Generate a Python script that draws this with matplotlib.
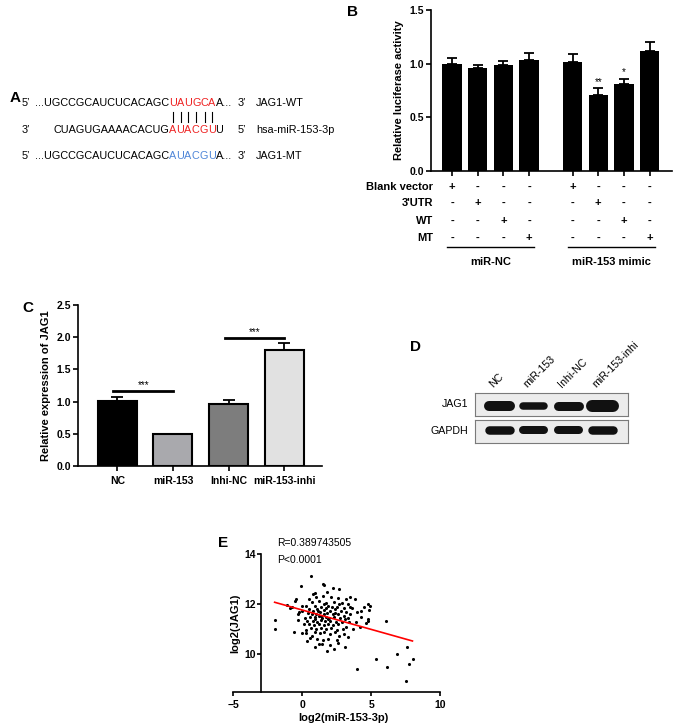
import matplotlib
matplotlib.use('Agg')
import matplotlib.pyplot as plt
import numpy as np

plt.rcParams['font.family'] = ['Liberation Sans', 'DejaVu Sans']
plt.rcParams['axes.linewidth'] = 1.2

W, H = 677, 728

# ---- A: sequences ----
wt_seq = ['...UGCCGCAUCUCACAGC', 'UAUGCA', 'A...']
mir_seq = ['CUAGUGAAAACACUG', 'AUACGU', 'U']
mt_seq = ['...UGCCGCAUCUCACAGC', 'AUACGU', 'A...']
seq_names = ['JAG1-WT', 'hsa-miR-153-3p', 'JAG1-MT']

# ---- B: luciferase ----
lucif_vals = [1.00, 0.96, 0.99, 1.03, 1.01, 0.71, 0.81, 1.12]
lucif_err = [0.05, 0.025, 0.03, 0.065, 0.08, 0.06, 0.045, 0.085]
lucif_stars = ['', '', '', '', '', '**', '*', '']
table_rows = ['Blank vector', "3'UTR", 'WT', 'MT']
table_signs = ['+---+---', '-+---+--', '--+---+-', '---+---+']
group_names = ['miR-NC', 'miR-153 mimic']

# ---- C: qPCR ----
expr_labels = ['NC', 'miR-153', 'Inhi-NC', 'miR-153-inhi']
expr_vals = [1.01, 0.50, 0.96, 1.80]
expr_err = [0.055, 0.0, 0.07, 0.11]
expr_colors = ['#000000', '#a9a9ad', '#7d7d7d', '#e1e1e1']
sig_pairs = [(0, 1, 1.16), (2, 3, 1.98)]

# ---- D: western blot ----
lanes = ['NC', 'miR-153', 'Inhi-NC', 'miR-153-inhi']
jag1_band = [10, 7.5, 9, 12]
gapdh_band = [8.5, 8, 8, 8.5]

# ---- E: correlation ----
e_pairs = [
    (-1.95, 11.37), (-1.97, 11.0), (-1.1, 11.97), (-0.76, 11.9), (-0.45, 12.2),
    (-0.55, 12.15), (-0.1, 12.74), (-0.28, 11.37), (-0.04, 10.86), (-0.6, 10.9),
    (0.61, 13.15), (0.33, 10.54), (0.73, 10.73), (0.93, 10.27), (1.46, 10.39),
    (1.83, 10.13), (2.33, 10.2), (3.1, 10.27), (3.35, 10.7), (2.7, 10.73),
    (3.7, 11.0), (4.2, 11.1), (4.8, 11.33), (6.05, 11.33), (3.95, 9.39),
    (5.35, 9.79), (6.13, 9.5), (6.85, 9.99), (7.58, 10.27), (7.77, 9.6),
    (8.07, 9.79), (7.53, 8.93), (4.87, 11.77), (4.24, 11.74), (3.47, 11.9),
    (4.8, 12.0), (4.95, 11.92), (3.8, 12.2), (3.2, 12.2), (2.7, 12.6),
    (2.2, 12.67), (1.53, 12.82), (1.6, 12.76), (0.93, 12.44), (0.78, 12.41),
    (1.8, 12.5), (-0.9, 11.85), (-0.3, 11.6), (0.0, 11.75), (0.2, 11.45),
    (0.1, 11.2), (0.25, 10.95), (-0.2, 11.7), (0.0, 11.95),
    (1.0, 12.3), (1.5, 12.35), (2.1, 12.3), (2.6, 12.25), (0.5, 12.2),
    (0.7, 12.1), (1.2, 12.15), (1.7, 12.05), (2.3, 12.1), (2.9, 12.05), (3.3, 12.0),
    (0.3, 11.95), (0.9, 11.95), (1.4, 11.9), (1.9, 11.95), (2.5, 11.9), (3.0, 11.85),
    (3.6, 11.85), (0.5, 11.8), (0.8, 11.75), (1.1, 11.8), (1.6, 11.78), (2.0, 11.75),
    (2.4, 11.8), (2.8, 11.72), (3.2, 11.7), (4.0, 11.7), (0.4, 11.65), (0.7, 11.62),
    (1.0, 11.6), (1.3, 11.68), (1.55, 11.6), (1.8, 11.65), (2.2, 11.62), (2.6, 11.6),
    (3.0, 11.55), (3.5, 11.6), (0.6, 11.5), (0.9, 11.48), (1.2, 11.52), (1.45, 11.45),
    (1.7, 11.5), (1.95, 11.45), (2.3, 11.5), (2.75, 11.45), (3.1, 11.4), (4.3, 11.5),
    (0.35, 11.35), (0.75, 11.35), (1.05, 11.3), (1.35, 11.38), (1.65, 11.32),
    (2.05, 11.35), (2.45, 11.3), (2.9, 11.28), (3.4, 11.3), (4.8, 11.4),
    (0.5, 11.2), (0.85, 11.18), (1.25, 11.2), (1.55, 11.15), (1.9, 11.22),
    (2.2, 11.15), (2.6, 11.2), (3.2, 11.1), (0.65, 11.05), (1.0, 11.0), (1.4, 11.05),
    (1.75, 11.0), (2.1, 11.05), (2.5, 10.98), (2.95, 11.0), (0.3, 10.85), (0.9, 10.88),
    (1.3, 10.85), (1.6, 10.9), (2.0, 10.8), (2.35, 10.88), (3.0, 10.8), (0.55, 10.65),
    (1.1, 10.6), (1.5, 10.55), (1.9, 10.62), (2.5, 10.55), (1.2, 10.4), (2.05, 10.35),
    (2.6, 10.45), (1.15, 11.72), (1.75, 11.85), (2.15, 11.88), (1.35, 11.55),
    (1.85, 11.4), (2.4, 11.65), (0.95, 11.4), (1.6, 12.0), (2.7, 12.0), (3.5, 12.3),
    (3.9, 11.3), (4.5, 11.9), (4.6, 11.25), (3.3, 11.45),
]
mir153_log2, jag1_log2 = zip(*e_pairs)
fit_x = [-2, 8]
fit_y = [12.08, 10.53]
r_text = 'R=0.389743505'
p_text = 'P<0.0001'

fig = plt.figure(figsize=(W / 100, H / 100), dpi=100)


def px_axes(x0, y0, x1, y1):
    return fig.add_axes([x0 / W, 1 - y1 / H, (x1 - x0) / W, (y1 - y0) / H])


# overlay in pixel coords for free text, drawn on top
ov = px_axes(0, 0, W, H)
ov.set_xlim(0, W)
ov.set_ylim(H, 0)
ov.axis('off')
ov.set_zorder(10)
renderer = fig.canvas.get_renderer()

bold = dict(fontweight='bold')
lab_kw = dict(fontsize=11, fontweight='bold', va='center', ha='left')

# ---------- A ----------
fs_seq = 7.8
red = '#ee2222'
blue = '#4f86d8'


def run_text(x, y, s, color, split=False):
    centers = []
    for p in (list(s) if split else [s]):
        t = ov.text(x, y, p, color=color, fontsize=fs_seq, ha='left', va='center')
        bb = t.get_window_extent(renderer=renderer)
        inv = ov.transData.inverted()
        xa = inv.transform((bb.x0, 0))[0]
        xb = inv.transform((bb.x1, 0))[0]
        centers.append((xa + xb) / 2)
        x = xb
    return x, centers


ov.text(10, 98, 'A', **lab_kw)
rows_y = [103.3, 130, 156]
seq_kw = dict(fontsize=fs_seq, va='center')
# line 1
ov.text(21.7, rows_y[0], '5\u2019', **seq_kw)
x, _ = run_text(35, rows_y[0], wt_seq[0], 'black')
red_x0 = x
x, centers = run_text(x, rows_y[0], wt_seq[1], red, split=True)
run_text(x, rows_y[0], wt_seq[2], 'black')
ov.text(237.7, rows_y[0], '3\u2019', **seq_kw)
# line 2
ov.text(21.7, rows_y[1], '3\u2019', **seq_kw)
ov.text(red_x0, rows_y[1], mir_seq[0], ha='right', **seq_kw)
x, _ = run_text(red_x0, rows_y[1], mir_seq[1], red, split=True)
run_text(x, rows_y[1], mir_seq[2], 'black')
ov.text(237.7, rows_y[1], '5\u2019', **seq_kw)
# line 3
ov.text(21.7, rows_y[2], '5\u2019', **seq_kw)
x, _ = run_text(35, rows_y[2], mt_seq[0], 'black')
x, _ = run_text(x, rows_y[2], mt_seq[1], blue, split=True)
run_text(x, rows_y[2], mt_seq[2], 'black')
ov.text(237.7, rows_y[2], '3\u2019', **seq_kw)
for yy, nm in zip(rows_y, seq_names):
    ov.text(256, yy, nm, **seq_kw)
for c in centers:
    ov.plot([c, c], [111.7, 121.7], color='black', lw=0.8)


def style_axes(ax):
    for s in ['top', 'right']:
        ax.spines[s].set_visible(False)
    ax.tick_params(length=3.5, width=1.2, labelsize=7.5, pad=1.5)
    for lb in ax.get_xticklabels() + ax.get_yticklabels():
        lb.set_fontweight('bold')


# ---------- B ----------
axB = px_axes(430.7, 10, 671.7, 170.7)
posB = [0, 1, 2, 3, 4.69, 5.69, 6.69, 7.69]
axB.bar(posB, lucif_vals, width=0.75, color='black', zorder=2)
axB.errorbar(posB, lucif_vals, yerr=[np.zeros(len(posB)), lucif_err], fmt='none',
             ecolor='black', elinewidth=1.3, capsize=3.5, capthick=1.3, zorder=3)
for p, v, e, s in zip(posB, lucif_vals, lucif_err, lucif_stars):
    if s:
        axB.text(p, v + e + 0.015, s, ha='center', va='bottom', fontsize=7)
axB.set_xlim(-0.83, 8.55)
axB.set_ylim(0, 1.5)
axB.set_yticks([0, 0.5, 1.0, 1.5])
axB.set_yticklabels(['0.0', '0.5', '1.0', '1.5'])
axB.set_xticks(posB)
axB.set_xticklabels([])
style_axes(axB)
axB.set_ylabel('Relative luciferase activity', fontsize=8, **bold)
axB.yaxis.set_label_coords(-0.11, 0.5)
tr = axB.get_xaxis_transform()
row_px = [186.7, 203.3, 221, 238.3]
for lbl, signs, ypx in zip(table_rows, table_signs, row_px):
    yf = (170.7 - ypx) / 160.7
    axB.text(-0.73, yf, lbl, transform=tr, ha='right', va='center', fontsize=8, **bold)
    for p, s in zip(posB, signs):
        axB.text(p, yf, s, transform=tr, ha='center', va='center', fontsize=8, **bold)
yl = (170.7 - 247.3) / 160.7
yg = (170.7 - 256.7) / 160.7
for (a, b), g in zip([(posB[0], posB[3]), (posB[4], posB[7])], group_names):
    axB.plot([a - 0.18, b + 0.21], [yl, yl], transform=tr, clip_on=False, color='black', lw=1)
    axB.text((a + b) / 2, yg, g, transform=tr, ha='center', va='top', fontsize=8, **bold)
ov.text(347, 12, 'B', **lab_kw)

# ---------- C ----------
axC = px_axes(77.7, 305, 321.7, 466)
posC = np.arange(len(expr_vals))
axC.bar(posC, expr_vals, width=0.7, color=expr_colors, edgecolor='black', linewidth=1.5, zorder=2)
axC.errorbar(posC, expr_vals, yerr=[np.zeros(len(posC)), expr_err], fmt='none',
             ecolor='black', elinewidth=1.3, capsize=4, capthick=1.3, zorder=1)
for i, j, yv in sig_pairs:
    axC.plot([i - 0.07, j], [yv, yv], color='black', lw=2)
    axC.text((i - 0.07 + j) / 2, yv + 0.02, '***', ha='center', va='bottom', fontsize=7)
axC.set_xlim(-0.71, 3.67)
axC.set_ylim(0, 2.5)
axC.set_yticks([0, 0.5, 1.0, 1.5, 2.0, 2.5])
axC.set_yticklabels(['0.0', '0.5', '1.0', '1.5', '2.0', '2.5'])
axC.set_xticks(posC)
axC.set_xticklabels(expr_labels)
style_axes(axC)
axC.tick_params(axis='x', pad=4)
axC.set_ylabel('Relative expression of JAG1', fontsize=8, **bold)
axC.yaxis.set_label_coords(-0.109, 0.5)
ov.text(22, 308, 'C', **lab_kw)

# ---------- D ----------
axJ = px_axes(475, 392.7, 628.3, 416)
axG = px_axes(475, 420, 628.3, 442.7)
for ax, bands, yb, name in [(axJ, jag1_band, 0.45, 'JAG1'), (axG, gapdh_band, 0.55, 'GAPDH')]:
    ax.set_facecolor('#ececec')
    ax.set_xlim(0.296, 4.74)
    ax.set_ylim(0, 1)
    ax.set_xticks([])
    ax.set_yticks([])
    for s in ax.spines.values():
        s.set_color('#7a7a7a')
        s.set_linewidth(0.8)
    for k, t in enumerate(bands):
        ax.plot([k + 1 - 0.31, k + 1 + 0.31], [yb, yb], color='#111111',
                lw=t * 0.72, solid_capstyle='round')
    ax.text(-0.046, 0.5, name, transform=ax.transAxes, ha='right', va='center', fontsize=7.7)
trJ = axJ.get_xaxis_transform()
for k, nm in enumerate(lanes):
    axJ.text(k + 1 - 0.15, 1.16, nm, transform=trJ, rotation=45, rotation_mode='anchor',
             ha='left', va='bottom', fontsize=7.7)
ov.text(410, 347, 'D', **lab_kw)

# ---------- E ----------
axE = px_axes(233.3, 554.3, 440, 691.7)
axE.patch.set_visible(False)
axE.scatter(mir153_log2, jag1_log2, s=5, color='black', zorder=3, linewidths=0)
axE.plot(fit_x, fit_y, color='red', lw=1.2, zorder=4)
axE.set_xlim(-5, 10)
axE.set_ylim(8.5, 14)
axE.spines['left'].set_position(('data', -3))
axE.set_xticks([-5, 0, 5, 10])
axE.set_yticks([10, 12, 14])
style_axes(axE)
axE.tick_params(axis='y', length=3, pad=0.8)
axE.tick_params(axis='x', length=3, pad=3)
axE.set_xlabel('log2(miR-153-3p)', fontsize=8, **bold)
axE.xaxis.set_label_coords(0.532, -0.155)
axE.set_ylabel('log2(JAG1)', fontsize=8, **bold)
axE.yaxis.set_label_coords(0.035, 0.5)
ov.text(218, 543, 'E', **lab_kw)
ov.text(276.7, 543.3, r_text, fontsize=7.5, va='center')
ov.text(276.7, 560, p_text, fontsize=7.5, va='center')

fig.savefig('out.png', dpi=100)
